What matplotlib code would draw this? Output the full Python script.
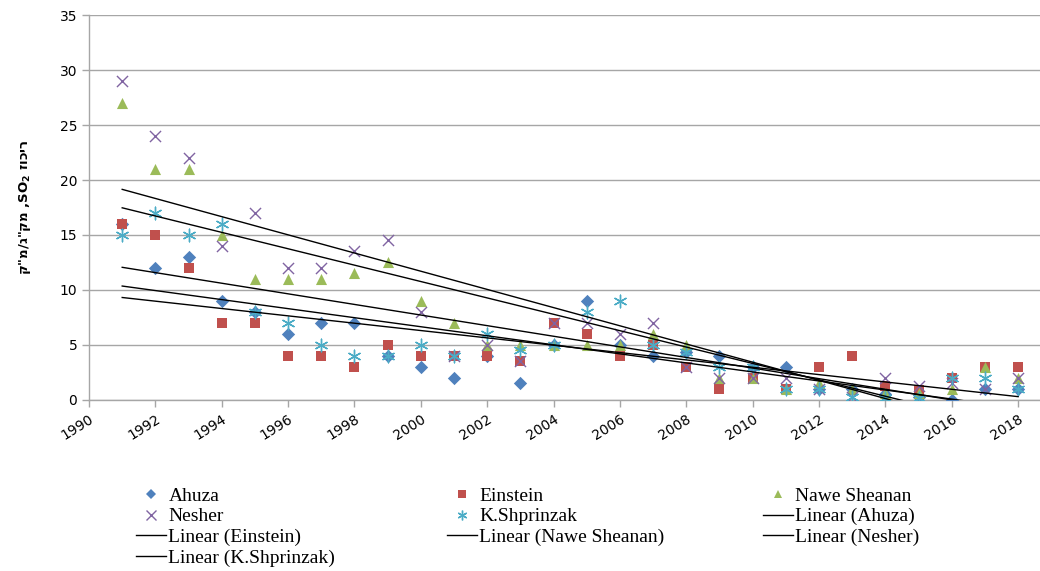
import numpy as np
import matplotlib
matplotlib.use("Agg")
import matplotlib.pyplot as plt
from matplotlib.lines import Line2D

# ── Annual SO2 concentration per monitoring station ──────────────────────
years = list(range(1991, 2019))

ahuza = [16, 12, 13, 9, 8, 6, 7, 7, 4, 3, 2, 4, 1.5, 5, 9, 5, 4, 4.4,
         4, 3, 3, 1, 1, 0.5, 0.3, 0, 1, 1]
einstein = [16, 15, 12, 7, 7, 4, 4, 3, 5, 4, 4, 4, 3.5, 7, 6, 4, 5, 3,
            1, 2, 1, 3, 4, 1.3, 0.9, 2, 3, 3]
nawe_sheanan = [27, 21, 21, 15, 11, 11, 11, 11.5, 12.5, 9, 7, 5, 5, 5, 5, 5,
                6, 5, 2, 2, 1, 1.5, 1, 0.6, 0.6, 1, 3, 2]
nesher = [29, 24, 22, 14, 17, 12, 12, 13.5, 14.5, 8, 4, 5, 3.5, 7, 7, 6,
          7, 3, 2, 2, 2, 1, 0.3, 2, 1.3, 1.5, 1, 2]
shprinzak = [15, 17, 15, 16, 8, 7, 5, 4, 4, 5, 4, 6, 4.5, 5, 8, 9, 5, 4.4,
             3, 3, 1, 1, 0.3, 0.15, 0.15, 2, 2, 1]

station_names = ["Ahuza", "Einstein", "Nawe Sheanan", "Nesher", "K.Shprinzak"]
station_values = [ahuza, einstein, nawe_sheanan, nesher, shprinzak]

# ── Style ────────────────────────────────────────────────────────────────
COLORS = ["#4F81BD", "#C0504D", "#9BBB59", "#8064A2", "#4BACC6"]
MARKERS = [
    dict(marker="D", s=46, linewidths=0),
    dict(marker="s", s=60, linewidths=0),
    dict(marker="^", s=64, linewidths=0),
    dict(marker="x", s=64, linewidths=1.0),
    dict(marker=(6, 2, 0), s=82, linewidths=1.0),
]
GRID = "#A6A6A6"

fig = plt.figure(figsize=(10.40, 5.71), dpi=100)
ax = fig.add_axes([0.0856, 0.2995, 0.9144, 0.6742])

x = np.array(years, dtype=float)
for vals, color, mk in zip(station_values, COLORS, MARKERS):
    ax.scatter(x, vals, color=color, zorder=3, **mk)

# least-squares trend line per station, across the station's year span
for vals in station_values:
    slope, icpt = np.polyfit(x, np.array(vals, dtype=float), 1)
    ax.plot([x[0], x[-1]], [icpt + slope * x[0], icpt + slope * x[-1]],
            color="black", linewidth=1.0, zorder=4)

ax.set_xlim(1990, 2018.66)
ax.set_ylim(0, 35)
ax.set_xticks(range(1990, 2019, 2))
ax.set_yticks(range(0, 36, 5))
ax.yaxis.grid(True, color=GRID, linewidth=1.0)
ax.set_axisbelow(True)
for side in ("top", "right"):
    ax.spines[side].set_visible(False)
for side in ("left", "bottom"):
    ax.spines[side].set_color(GRID)
    ax.spines[side].set_linewidth(1.0)
ax.tick_params(axis="both", color=GRID, length=5, width=1.0, labelsize=10,
               labelcolor="black")
plt.setp(ax.get_xticklabels(), rotation=32, ha="right",
         rotation_mode="anchor")

ax.set_ylabel('ק"מ/ג"קמ ,$\\mathregular{SO_2}$ זוכיר', fontsize=9.5,
              fontweight="bold", family="DejaVu Sans", labelpad=19)

# ── Legend: three columns, Excel-style row order ─────────────────────────
marker_handles = [
    Line2D([], [], linestyle="none", color=c, marker=m["marker"],
           markersize=ms, markeredgewidth=ew)
    for c, m, ms, ew in zip(COLORS, MARKERS, [5, 6, 6, 7, 7],
                            [0, 0, 0, 1.0, 1.0])
]
trend_handle = lambda: Line2D([], [], color="black", linewidth=1.0)
labels = station_names + [f"Linear ({n})" for n in station_names]
handles = marker_handles + [trend_handle() for _ in station_names]

columns = [[0, 3, 6, 9], [1, 4, 7], [2, 5, 8]]
col_x = [0.131, 0.430, 0.734]
for cx, idx in zip(col_x, columns):
    fig.legend([handles[i] for i in idx], [labels[i] for i in idx],
               loc="upper left", bbox_to_anchor=(cx, 0.147),
               frameon=False, handlelength=1.55, handletextpad=0.1,
               labelspacing=0.16, borderaxespad=0, borderpad=0,
               prop={"family": "Liberation Serif", "size": 14})

fig.savefig("out.png", dpi=100)
